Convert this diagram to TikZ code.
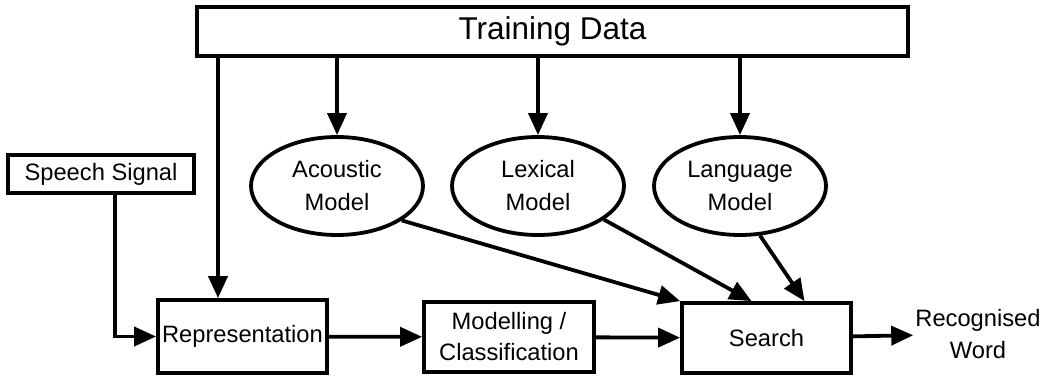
\documentclass[tikz,border=0pt]{standalone}
\usepackage{fontspec}
\setmainfont{Liberation Sans}
\usetikzlibrary{arrows.meta,positioning,shapes.geometric}

\begin{document}
\begin{tikzpicture}
[x=1pt,y=-1pt,
box/.style={rectangle,draw=black,line width=3.8pt,inner sep=2pt,
font=\fontsize{23.7}{31}\selectfont,align=center},
model/.style={ellipse,draw=black,line width=3.8pt,inner sep=0pt,
minimum width=172pt,minimum height=98pt,
font=\fontsize{23.7}{33}\selectfont,align=center},
flow/.style={-{Triangle[length=22pt,width=19pt]},line width=3.8pt}]

\useasboundingbox (0,0) rectangle (1046,376);

\node[box,minimum width=711pt,minimum height=49pt,
font=\fontsize{31.5}{36}\selectfont] (train) at (552.5,31.5) {Training Data};
\node[box,minimum width=186pt,minimum height=38pt] (speech) at (101,174) {Speech Signal};

% the three models under the training data
\node[model] (acoustic) at (337,186) {Acoustic\\Model};
\node[model] (lexical) at (538,186) {Lexical\\Model};
\node[model] (language) at (740,186) {Language\\Model};

\node[box,minimum width=169pt,minimum height=73pt] (repr) at (242.5,336.5) {Representation};
\node[box,minimum width=170pt,minimum height=70pt] (classify) at (509,337) {Modelling /\\Classification};
\node[box,minimum width=169pt,minimum height=70pt] (search) at (766.5,338) {Search};
\node[font=\fontsize{23.7}{32}\selectfont,align=center,inner sep=2pt] (word) at (978,334) {Recognised\\Word};

\coordinate (tap) at (218,56);

\draw[flow] (acoustic.north |- train.south) -- (acoustic.north);
\draw[flow] (lexical.north |- train.south) -- (lexical.north);
\draw[flow] (language.north |- train.south) -- (language.north);
\draw[flow] (tap) -- (tap |- repr.north);

\draw[flow] ([xshift=14pt]speech.south) |- (repr.west);
\draw[flow] (repr) -- (classify);
\draw[flow] (classify) -- (search);
\draw[flow] (search) -- (word);

% models feeding the search
\draw[flow] (acoustic.-28) -- (search.north west);
\draw[flow] (lexical.-27) -- ([xshift=-15pt]search.north);
\draw[flow] (language.-68) -- ([xshift=38pt]search.north);

\end{tikzpicture}
\end{document}
